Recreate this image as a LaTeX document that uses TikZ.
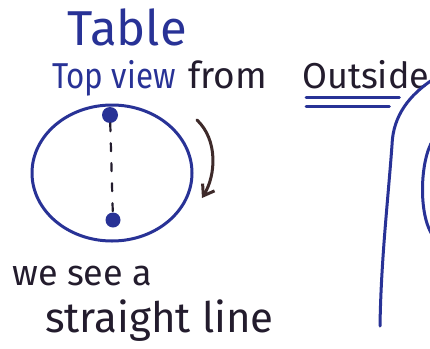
\documentclass[tikz,border=0pt]{standalone}
\usepackage{fontspec}
\usepackage{graphicx}
\setmainfont{Fira Sans}
\usetikzlibrary{arrows.meta}
\definecolor{inkblue}{RGB}{40,50,150}
\definecolor{inkdark}{RGB}{35,28,45}
\definecolor{inkbrown}{RGB}{62,42,42}
\tikzset{
  ink/.style={line width=3pt, line cap=round, line join=round},
  hand/.style={inner sep=0pt, anchor=base west, font=\fontsize{36}{40}\selectfont},
  spot/.style={circle, fill=inkblue, inner sep=0pt, minimum size=16pt}
}
\begin{document}
\begin{tikzpicture}[x=1pt,y=-1pt]
    \useasboundingbox[fill=white] (0,0) rectangle (430,348);

    % Heading
    \node[hand, text=inkblue, font=\fontsize{49}{52}\selectfont] (table) at (67,45) {Table};
    \node[hand, text=inkblue] (topview) at (52,88) {\scalebox{0.87}[1]{Top view}};
    \node[hand, text=inkdark, font=\fontsize{37}{40}\selectfont] (from) at (188,88) {from};
    \node[hand, text=inkdark] (outside) at (302,88) {Outside};
    \draw[ink, inkblue] ([yshift=-9pt,xshift=4pt]outside.base west) -- ([yshift=-9pt,xshift=-30pt]outside.base east);
    \draw[ink, inkblue] ([yshift=-18pt,xshift=4pt]outside.base west) -- ([yshift=-18pt,xshift=-40pt]outside.base east);

    % Table seen from the top
    \draw[ink, inkblue] (112,173) ellipse [x radius=80, y radius=68];
    \node[spot] (upper) at (110,115) {};
    \node[spot, minimum size=15pt] (lower) at (113,220) {};
    \draw[ink, inkdark, line width=2.2pt, dash pattern=on 8pt off 12pt] (upper) -- (lower);

    % Turning direction
    \draw[ink, inkbrown, -{Straight Barb[length=10pt, width=14pt]}]
        (197,120) .. controls (218,140) and (216,175) .. (202,198);

    % Caption
    \node[hand, text=inkdark] (wesee) at (12,285) {we see a};
    \node[hand, text=inkdark, font=\fontsize{42}{46}\selectfont] (straight) at (45,332) {straight line};

    % Side view, cut at the right
    \draw[ink, inkblue] (432,80) .. controls (410,95) and (393,115) .. (392,145)
        .. controls (388,200) and (381,260) .. (380,326);
    \draw[ink, inkblue] (433,140) .. controls (420,160) and (418,215) .. (433,236);
\end{tikzpicture}
\end{document}
